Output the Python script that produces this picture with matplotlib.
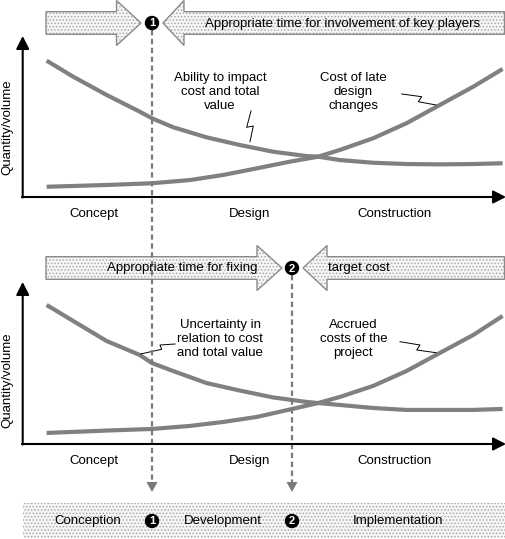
import matplotlib.pyplot as plt
from matplotlib.patches import Polygon, Circle, Rectangle

plt.rcParams['font.family'] = ['Liberation Sans', 'DejaVu Sans']
plt.rcParams['hatch.linewidth'] = 0.7

# project timeline (0 = start, 100 = end) and quantity levels (0..100)
t_fall = [5.1, 10.6, 17.5, 24.4, 26.9, 31.3, 38.2, 45.1, 52.0, 58.9, 61.3, 65.8,
          72.7, 79.6, 86.5, 93.4, 99.5]
t_rise = [5.1, 17.5, 26.9, 34.8, 41.7, 48.6, 55.5, 61.3, 65.8, 72.7, 79.6, 86.5,
          93.4, 99.5]

top_impact = [85.2, 75.2, 63.8, 53.3, 49.2, 43.6, 37.3, 32.5, 28.3, 25.6, 25.2, 23.1,
              21.4, 20.6, 20.4, 20.6, 21.1]
top_late_cost = [6.4, 7.5, 8.6, 10.6, 13.8, 17.9, 22.1, 25.2, 29.4, 36.7, 46.1, 57.5,
                 68.9, 80.0]
bottom_uncertainty = [86.9, 76.9, 64.4, 55.6, 50.6, 45.6, 38.1, 33.4, 29.1, 26.3, 25.6,
                      24.4, 22.5, 21.3, 21.3, 21.3, 21.9]
bottom_accrued = [6.9, 8.4, 9.4, 11.3, 13.8, 16.9, 21.6, 25.6, 29.4, 36.3, 45.6, 56.9,
                  68.1, 80.0]

phases = ['Concept', 'Design', 'Construction']
phase_pos = [14.9, 47.2, 77.2]
stages = ['Conception', 'Development', 'Implementation']

W, H = 506, 539
FS = 9.5
CURVE = '#808080'
DASH = '#7a7a7a'

fig = plt.figure(figsize=(W / 100, H / 100), dpi=100)


def panel(bottom_px, y1, y2, label1, label2):
    ax = fig.add_axes([22 / W, (H - bottom_px) / H, 483 / W, 160 / H])
    ax.plot(t_fall, y1, color=CURVE, lw=3, solid_capstyle='butt', solid_joinstyle='round')
    ax.plot(t_rise, y2, color=CURVE, lw=3, solid_capstyle='butt', solid_joinstyle='round')
    ax.set_xlim(0, 100)
    ax.set_ylim(0, 100)
    ax.patch.set_visible(False)
    for s in ax.spines.values():
        s.set_visible(False)
    ax.set_yticks([])
    ax.set_xticks(phase_pos, phases, fontsize=FS)
    ax.tick_params(axis='x', length=0, pad=8)
    ax.text(41.0, 65.5, label1, ha='center', va='center', fontsize=FS, linespacing=1.2)
    ax.text(68.6, 65.5, label2, ha='center', va='center', fontsize=FS, linespacing=1.2)
    return ax


panel(197, top_impact, top_late_cost,
      'Ability to impact\ncost and total\nvalue', 'Cost of late\ndesign\nchanges')
panel(444, bottom_uncertainty, bottom_accrued,
      'Uncertainty in\nrelation to cost\nand total value', 'Accrued\ncosts of the\nproject')

ov = fig.add_axes([0, 0, 1, 1], zorder=5)
ov.set_xlim(0, W)
ov.set_ylim(H, 0)
ov.axis('off')
ov.patch.set_visible(False)


def hatched(pts, outline=True):
    ov.add_patch(Polygon(pts, closed=True, facecolor='#f6f6f6', edgecolor='#a8a8a8',
                         hatch='.....', lw=0))
    if outline:
        ov.add_patch(Polygon(pts, closed=True, fill=False, edgecolor='#8a8a8a', lw=1))


def arrow_right(x0, xb, xt, yc, bh=11.3, hh=22.5):
    return [(x0, yc - bh), (xb, yc - bh), (xb, yc - hh), (xt, yc),
            (xb, yc + hh), (xb, yc + bh), (x0, yc + bh)]


def arrow_left(x1, xb, xt, yc, bh=11.3, hh=22.5):
    return [(x1, yc - bh), (xb, yc - bh), (xb, yc - hh), (xt, yc),
            (xb, yc + hh), (xb, yc + bh), (x1, yc + bh)]


def badge(x, y, n):
    ov.add_patch(Circle((x, y), 6.5, color='black', zorder=6))
    ov.text(x, y + 0.5, n, color='white', fontsize=8, fontweight='bold',
            ha='center', va='center', zorder=7)


# top banner
hatched(arrow_right(46, 116.5, 141, 23))
hatched(arrow_left(504.5, 184, 163, 23))
ov.text(342.5, 23.5, 'Appropriate time for involvement of key players', fontsize=FS,
        ha='center', va='center')
badge(152, 23, '1')

# bottom banner
hatched(arrow_right(46, 257, 282, 268))
hatched(arrow_left(504.5, 327, 303, 268))
ov.text(182.5, 268.5, 'Appropriate time for fixing', fontsize=FS, ha='center', va='center')
ov.text(328, 268.5, 'target cost', fontsize=FS, ha='left', va='center')
badge(292, 268, '2')

# axes arrows
ap = dict(arrowstyle='-|>,head_length=0.55,head_width=0.28', color='black', lw=1.5,
          shrinkA=0, shrinkB=0, mutation_scale=14)
for yb, yt in [(197.5, 36), (444.5, 282)]:
    ov.annotate('', xy=(22.7, yt), xytext=(22.7, yb), arrowprops=ap)
    ov.annotate('', xy=(506, yb - 0.5), xytext=(21.9, yb - 0.5), arrowprops=ap)

ov.text(7.5, 127, 'Quantity/volume', rotation=90, fontsize=FS, ha='center', va='center')
ov.text(7.5, 380, 'Quantity/volume', rotation=90, fontsize=FS, ha='center', va='center')

# leader squiggles
for xs, ys in [([251, 246.7, 253.3, 250], [111, 127.3, 126, 141.7]),
               ([401.7, 421.7, 418.3, 436], [94, 96.7, 101.7, 105]),
               ([140.7, 161.7, 160, 175], [354, 349.3, 345, 344]),
               ([400, 420, 416.7, 436], [341.7, 345, 350, 352.7])]:
    ov.plot(xs, ys, color='black', lw=0.7)

# dashed milestone lines
for x, y0 in [(152, 30), (292, 275)]:
    ov.plot([x, x], [y0, 484], color=DASH, lw=1.6, dashes=(2.4, 1.6))
    ov.add_patch(Polygon([(x - 5.5, 482), (x + 5.5, 482), (x, 492)], closed=True,
                         color=DASH, lw=0))

# bottom stage band
ov.add_patch(Rectangle((22.7, 503), 482, 35, facecolor='#f6f6f6', edgecolor='#a8a8a8',
                       hatch='.....', lw=0))
stage_x = [87.5, 222.5, 398]
for sx, s in zip(stage_x, stages):
    ov.text(sx, 521, s, fontsize=FS, ha='center', va='center')
badge(152, 521, '1')
badge(292, 521, '2')

fig.savefig('out.png', dpi=100)
